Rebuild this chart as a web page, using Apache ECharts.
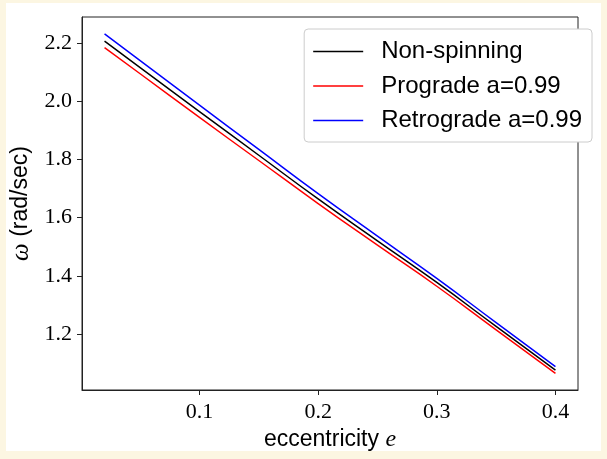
<!DOCTYPE html>
<html>
<head>
<meta charset="utf-8">
<script src="https://cdn.jsdelivr.net/npm/echarts@6/dist/echarts.min.js"></script>
<style>
html,body{margin:0;padding:0;background:#fcf6e2;}
#panel{position:absolute;left:6px;top:3px;width:595px;height:448px;background:#ffffff;}
#chart{position:absolute;left:0;top:0;width:607px;height:459px;}
</style>
</head>
<body>
<div id="panel"></div>
<div id="chart"></div>
<script>
var ecc = [0.02, 0.05, 0.1, 0.15, 0.2, 0.25, 0.3, 0.35, 0.4];
var nonSpinning = [2.206, 2.115, 1.964, 1.814, 1.664, 1.520, 1.377, 1.226, 1.076];
var prograde = [2.184, 2.094, 1.944, 1.796, 1.648, 1.505, 1.364, 1.214, 1.065];
var retrograde = [2.231, 2.139, 1.986, 1.834, 1.682, 1.536, 1.391, 1.239, 1.088];
var xTicks = [0.1, 0.2, 0.3, 0.4];
var yTicks = [1.2, 1.4, 1.6, 1.8, 2.0, 2.2];
var seriesNames = ['Non-spinning', 'Prograde a=0.99', 'Retrograde a=0.99'];

function pairs(ys) { return ecc.map(function (x, i) { return [x, ys[i]]; }); }

var chart = echarts.init(document.getElementById('chart'), null, {renderer: 'canvas'});
var serif = 'Liberation Serif';
var sans = 'Liberation Sans';
var option = {
  backgroundColor: 'transparent',
  animation: false,
  grid: {left: 82, top: 17, right: 29, bottom: 69, show: true, borderColor: '#222', borderWidth: 1, backgroundColor: '#fff'},
  legend: {
    orient: 'vertical', right: 15, top: 29,
    data: seriesNames,
    icon: 'rect',
    itemWidth: 50, itemHeight: 1.5, itemGap: 9.5,
    backgroundColor: '#fff', borderColor: '#cccccc', borderWidth: 1, borderRadius: 4,
    padding: [10, 10, 9, 9],
    textStyle: {fontFamily: sans, fontSize: 24, color: '#000', lineHeight: 25, padding: [0, 0, 0, 13]}
  },
  xAxis: {
    type: 'value', min: 0.001, max: 0.419,
    name: 'eccentricity {e|e}', nameLocation: 'middle', nameGap: 36,
    nameTextStyle: {fontFamily: sans, fontSize: 23, color: '#000', rich: {e: {fontFamily: serif, fontStyle: 'italic', fontSize: 24, color: '#000'}}},
    axisLine: {show: true, lineStyle: {color: '#222'}},
    axisTick: {show: true, inside: false, length: 5, lineStyle: {color: '#222'}, customValues: xTicks},
    axisLabel: {fontFamily: serif, fontSize: 22, color: '#000', margin: 11, customValues: xTicks, formatter: function (v) { return v.toFixed(1); }},
    splitLine: {show: false}
  },
  yAxis: {
    type: 'value', min: 1.0076, max: 2.289,
    name: '{w|ω} (rad/sec)', nameLocation: 'middle', nameGap: 40,
    nameTextStyle: {fontFamily: sans, fontSize: 23, color: '#000', rich: {w: {fontFamily: serif, fontStyle: 'italic', fontSize: 25, color: '#000'}}},
    axisLine: {show: true, lineStyle: {color: '#222'}},
    axisTick: {show: true, inside: false, length: 5, lineStyle: {color: '#222'}, customValues: yTicks},
    axisLabel: {fontFamily: serif, fontSize: 22, color: '#000', margin: 10, customValues: yTicks, formatter: function (v) { return v.toFixed(1); }},
    splitLine: {show: false}
  },
  series: [
    {name: seriesNames[0], type: 'line', data: pairs(nonSpinning), symbol: 'none', smooth: true, lineStyle: {color: '#000000', width: 1.5}, itemStyle: {color: '#000000'}},
    {name: seriesNames[1], type: 'line', data: pairs(prograde), symbol: 'none', smooth: true, lineStyle: {color: '#ff0000', width: 1.5}, itemStyle: {color: '#ff0000'}},
    {name: seriesNames[2], type: 'line', data: pairs(retrograde), symbol: 'none', smooth: true, lineStyle: {color: '#0000ff', width: 1.5}, itemStyle: {color: '#0000ff'}}
  ]
};
chart.setOption(option);
</script>
</body>
</html>
